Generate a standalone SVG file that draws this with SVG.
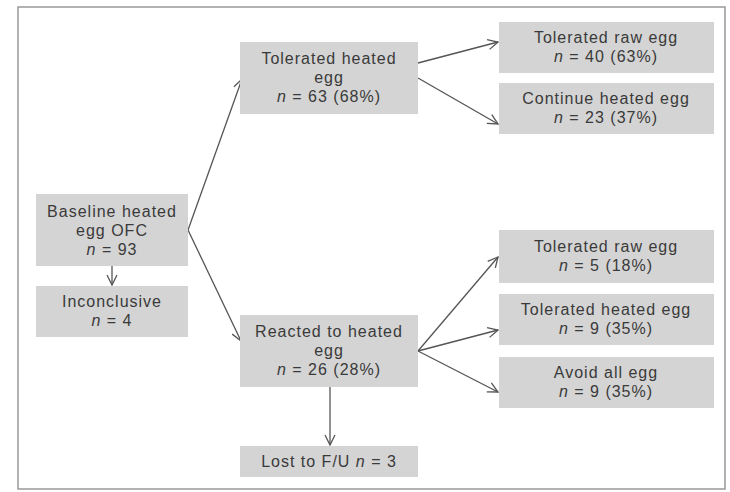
<svg xmlns="http://www.w3.org/2000/svg" width="730" height="492" viewBox="0 0 730 492">
<defs>
<marker id="arr" markerUnits="userSpaceOnUse" markerWidth="14" markerHeight="14" refX="11" refY="6" orient="auto">
<path d="M1,1 L11,6 L1,11" fill="none" stroke="#555" stroke-width="1.3"/>
</marker>
<style>
.box{fill:#d4d4d4;}
.t{font-family:"Liberation Sans",Arial,sans-serif;font-size:16px;fill:#3a3a3a;text-anchor:middle;letter-spacing:1px;}
.i{font-style:italic;}
.c{fill:none;stroke:#555;stroke-width:1.3;marker-end:url(#arr);}
</style>
</defs>
<rect x="0" y="0" width="730" height="492" fill="#fff"/>
<rect x="18" y="7" width="707" height="482" fill="#fff" stroke="#999" stroke-width="1.5"/>
<g id="connectors">
<line class="c" x1="188" y1="230" x2="242" y2="79"/>
<line class="c" x1="188" y1="230" x2="241" y2="341"/>
<line class="c" x1="112" y1="266" x2="112" y2="285"/>
<line class="c" x1="418" y1="63" x2="498" y2="42"/>
<line class="c" x1="418" y1="78" x2="498" y2="124"/>
<line class="c" x1="418" y1="351" x2="498" y2="257"/>
<line class="c" x1="418" y1="351" x2="498" y2="330"/>
<line class="c" x1="418" y1="351" x2="498" y2="392"/>
<line class="c" x1="330" y1="387" x2="330" y2="445"/>
</g>
<g id="baseline">
<rect class="box" x="36" y="194" width="152" height="72"/>
<text class="t" x="112" y="217">Baseline heated</text>
<text class="t" x="112" y="236">egg OFC</text>
<text class="t" x="112" y="255"><tspan class="i">n</tspan> = 93</text>
</g>
<g id="inconclusive">
<rect class="box" x="36" y="286" width="152" height="51"/>
<text class="t" x="112" y="307">Inconclusive</text>
<text class="t" x="112" y="326"><tspan class="i">n</tspan> = 4</text>
</g>
<g id="tolerated-heated">
<rect class="box" x="240" y="42" width="178" height="72"/>
<text class="t" x="329" y="64">Tolerated heated</text>
<text class="t" x="329" y="83">egg</text>
<text class="t" x="329" y="102"><tspan class="i">n</tspan> = 63 (68%)</text>
</g>
<g id="reacted">
<rect class="box" x="240" y="315" width="178" height="72"/>
<text class="t" x="329" y="337">Reacted to heated</text>
<text class="t" x="329" y="356">egg</text>
<text class="t" x="329" y="375"><tspan class="i">n</tspan> = 26 (28%)</text>
</g>
<g id="lost">
<rect class="box" x="240" y="446" width="178" height="31"/>
<text class="t" x="329" y="467">Lost to F/U <tspan class="i">n</tspan> = 3</text>
</g>
<g id="raw1">
<rect class="box" x="499" y="22" width="215" height="51"/>
<text class="t" x="606" y="43">Tolerated raw egg</text>
<text class="t" x="606" y="62"><tspan class="i">n</tspan> = 40 (63%)</text>
</g>
<g id="continue">
<rect class="box" x="499" y="83" width="215" height="51"/>
<text class="t" x="606" y="104">Continue heated egg</text>
<text class="t" x="606" y="123"><tspan class="i">n</tspan> = 23 (37%)</text>
</g>
<g id="raw2">
<rect class="box" x="499" y="230" width="215" height="53"/>
<text class="t" x="606" y="252">Tolerated raw egg</text>
<text class="t" x="606" y="271"><tspan class="i">n</tspan> = 5 (18%)</text>
</g>
<g id="heated2">
<rect class="box" x="499" y="294" width="215" height="51"/>
<text class="t" x="606" y="315">Tolerated heated egg</text>
<text class="t" x="606" y="334"><tspan class="i">n</tspan> = 9 (35%)</text>
</g>
<g id="avoid">
<rect class="box" x="499" y="357" width="215" height="51"/>
<text class="t" x="606" y="378">Avoid all egg</text>
<text class="t" x="606" y="397"><tspan class="i">n</tspan> = 9 (35%)</text>
</g>
</svg>
